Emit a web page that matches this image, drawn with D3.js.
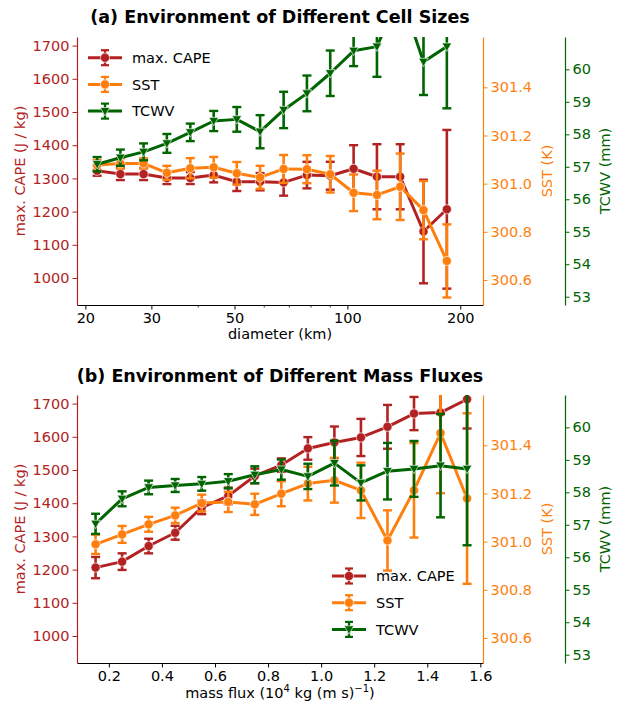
<!DOCTYPE html>
<html>
<head>
<meta charset="utf-8">
<script src="https://cdn.jsdelivr.net/npm/d3@7"></script>
<style>
  body { margin: 0; background: #fff; }
  svg text { font-family: "DejaVu Sans", sans-serif; }
</style>
</head>
<body>
<div id="chart"></div>
<script>
// ---- data ----
const diameter = [21.5, 24.8, 28.6, 33.0, 38.1, 44.0, 50.7, 58.5, 67.6, 78.0, 90.0, 103.9, 119.9, 138.3, 159.6, 184.2];
const capeA    = [1323, 1313, 1313, 1301, 1301, 1310, 1290, 1290, 1288, 1310, 1308, 1329, 1305, 1305, 1140, 1207];
const capeAErr = [15, 18, 18, 18, 18, 22, 28, 26, 40, 40, 42, 71, 98, 98, 156, 239];
const sstA     = [301.077, 301.084, 301.084, 301.045, 301.064, 301.068, 301.043, 301.026, 301.061, 301.060, 301.039, 300.962, 300.953, 300.987, 300.890, 300.679];
const sstAErr  = [0.021, 0.021, 0.021, 0.029, 0.042, 0.043, 0.047, 0.048, 0.058, 0.058, 0.076, 0.076, 0.101, 0.138, 0.121, 0.152];
const tcwvA    = [57.08, 57.28, 57.46, 57.72, 58.06, 58.41, 58.46, 58.08, 58.75, 59.26, 59.88, 60.57, 60.70, 62.35, 60.23, 60.70];
const tcwvAErr = [0.22, 0.25, 0.26, 0.29, 0.27, 0.31, 0.38, 0.51, 0.56, 0.55, 0.70, 0.47, 0.93, 1.0, 1.02, 1.9];

const massFlux = [0.15, 0.25, 0.35, 0.45, 0.55, 0.65, 0.75, 0.85, 0.95, 1.05, 1.15, 1.25, 1.35, 1.45, 1.55];
const capeB    = [1206, 1224, 1271, 1311, 1387, 1422, 1482, 1515, 1565, 1583, 1598, 1630, 1670, 1673, 1713];
const capeBErr = [32, 25, 22, 21, 20, 25, 22, 20, 34, 48, 56, 66, 50, 60, 88];
const sstB     = [300.989, 301.030, 301.072, 301.109, 301.160, 301.165, 301.155, 301.199, 301.241, 301.255, 301.213, 301.005, 301.213, 301.451, 301.179];
const sstBErr  = [0.040, 0.035, 0.031, 0.032, 0.035, 0.042, 0.044, 0.052, 0.070, 0.093, 0.115, 0.125, 0.196, 0.25, 0.354];
const tcwvB    = [57.03, 57.80, 58.15, 58.21, 58.26, 58.34, 58.54, 58.70, 58.49, 58.90, 58.29, 58.65, 58.72, 58.82, 58.72];
const tcwvBErr = [0.31, 0.23, 0.21, 0.20, 0.21, 0.22, 0.26, 0.31, 0.39, 0.69, 0.54, 0.87, 0.86, 1.59, 2.35];

const capeTicks = [1000, 1100, 1200, 1300, 1400, 1500, 1600, 1700];
const sstTicks = [300.6, 300.8, 301.0, 301.2, 301.4];
const tcwvTicks = [53, 54, 55, 56, 57, 58, 59, 60];
const diameterTicks = [20, 30, 50, 100, 200];
const diameterMinor = [40, 60, 70, 80, 90];
const massTicks = [0.2, 0.4, 0.6, 0.8, 1.0, 1.2, 1.4, 1.6];

const seriesNames = ["max. CAPE", "SST", "TCWV"];
const colors = { cape: "#b22222", sst: "#ff7f0e", tcwv: "#006400" };

// ---- layout ----
const width = 621, height = 704;
const left = 77, right = 483, tcwvX = 565;
const fontSize = 14.5;

const svg = d3.select("#chart").append("svg")
  .attr("width", width)
  .attr("height", height);

function drawPanel(cfg) {
  const top = cfg.top, bottom = cfg.bottom;
  const g = svg.append("g");

  let yCape = d3.scaleLinear().domain([918.7, 1725.9]).range([bottom, top]);
  let ySst = d3.scaleLinear().domain([300.496, 301.609]).range([bottom, top]);
  let yTcwv = d3.scaleLinear().domain([52.745, 60.996]).range([bottom, top]);
  let x = cfg.x;

  // clip to the axes box
  g.append("clipPath").attr("id", "clip" + cfg.id)
    .append("rect")
    .attr("x", left).attr("y", top)
    .attr("width", right - left).attr("height", bottom - top);

  // title
  g.append("text")
    .attr("x", 280).attr("y", cfg.titleY)
    .attr("text-anchor", "middle")
    .style("font-size", "17.5px").style("font-weight", "bold")
    .text(cfg.title);

  // x axis
  let xAxis = d3.axisBottom(x).tickValues(cfg.xTicks).tickFormat(cfg.xFormat)
    .tickSizeOuter(0).tickSizeInner(4.5).tickPadding(3);
  let gx = g.append("g")
    .attr("transform", "translate(0," + bottom + ")")
    .call(xAxis);
  gx.selectAll("text").style("font-size", fontSize + "px").attr("fill", "#000");
  gx.select(".domain").attr("stroke", "#000").attr("stroke-width", 1.2);
  if (cfg.xMinor) {
    gx.selectAll(".minor").data(cfg.xMinor).enter().append("line")
      .attr("class", "minor")
      .attr("x1", d => x(d)).attr("x2", d => x(d))
      .attr("y1", 0).attr("y2", 2.5)
      .attr("stroke", "#000").attr("stroke-width", 0.8);
  }

  g.append("text")
    .attr("class", "xlabel")
    .attr("x", 280).attr("y", cfg.xLabelY)
    .attr("text-anchor", "middle")
    .style("font-size", fontSize + "px")
    .call(cfg.xLabel);

  // y axes
  function styleAxis(sel, color) {
    sel.select(".domain").attr("stroke", color).attr("stroke-width", 1.2);
    sel.selectAll(".tick line").attr("stroke", color);
    sel.selectAll("text").attr("fill", color).style("font-size", fontSize + "px");
  }

  let gCape = g.append("g").attr("transform", "translate(" + left + ",0)")
    .call(d3.axisLeft(yCape).tickValues(capeTicks).tickFormat(d3.format("d"))
      .tickSizeOuter(0).tickSizeInner(4.5).tickPadding(3));
  styleAxis(gCape, colors.cape);

  let gSst = g.append("g").attr("transform", "translate(" + right + ",0)")
    .call(d3.axisRight(ySst).tickValues(sstTicks).tickFormat(d3.format(".1f"))
      .tickSizeOuter(0).tickSizeInner(4.5).tickPadding(3));
  styleAxis(gSst, colors.sst);

  let gTcwv = g.append("g").attr("transform", "translate(" + tcwvX + ",0)")
    .call(d3.axisRight(yTcwv).tickValues(tcwvTicks).tickFormat(d3.format("d"))
      .tickSizeOuter(0).tickSizeInner(4.5).tickPadding(3));
  styleAxis(gTcwv, colors.tcwv);

  let midY = (top + bottom) / 2;
  g.append("text")
    .attr("transform", "translate(25," + midY + ") rotate(-90)")
    .attr("text-anchor", "middle")
    .attr("fill", colors.cape).style("font-size", fontSize + "px")
    .text("max. CAPE (J / kg)");
  g.append("text")
    .attr("transform", "translate(552," + midY + ") rotate(-90)")
    .attr("text-anchor", "middle")
    .attr("fill", colors.sst).style("font-size", fontSize + "px")
    .text("SST (K)");
  g.append("text")
    .attr("transform", "translate(610," + midY + ") rotate(-90)")
    .attr("text-anchor", "middle")
    .attr("fill", colors.tcwv).style("font-size", fontSize + "px")
    .text("TCWV (mm)");

  // series
  let plot = g.append("g").attr("clip-path", "url(#clip" + cfg.id + ")");
  let series = [
    { vals: cfg.cape, err: cfg.capeErr, y: yCape, color: colors.cape, marker: "circle" },
    { vals: cfg.sst, err: cfg.sstErr, y: ySst, color: colors.sst, marker: "circle" },
    { vals: cfg.tcwv, err: cfg.tcwvErr, y: yTcwv, color: colors.tcwv, marker: "tri" }
  ];

  series.forEach(function(s) {
    let pts = cfg.xs.map((d, i) => ({ x: d, v: s.vals[i], e: s.err[i] }));
    let line = d3.line().x(d => x(d.x)).y(d => s.y(d.v));
    let sg = plot.append("g");

    sg.append("path").datum(pts)
      .attr("d", line)
      .attr("fill", "none")
      .attr("stroke", s.color)
      .attr("stroke-width", 3)
      .attr("stroke-linejoin", "round");

    sg.selectAll(".bar").data(pts).enter().append("line")
      .attr("x1", d => x(d.x)).attr("x2", d => x(d.x))
      .attr("y1", d => s.y(d.v - d.e)).attr("y2", d => s.y(d.v + d.e))
      .attr("stroke", s.color).attr("stroke-width", 2.6);

    let caps = [];
    pts.forEach(d => { caps.push({ x: d.x, v: d.v - d.e }); caps.push({ x: d.x, v: d.v + d.e }); });
    sg.selectAll(".cap").data(caps).enter().append("line")
      .attr("x1", d => x(d.x) - 4.5).attr("x2", d => x(d.x) + 4.5)
      .attr("y1", d => s.y(d.v)).attr("y2", d => s.y(d.v))
      .attr("stroke", s.color).attr("stroke-width", 2.4);

    if (s.marker === "circle") {
      sg.selectAll(".mk").data(pts).enter().append("circle")
        .attr("cx", d => x(d.x)).attr("cy", d => s.y(d.v))
        .attr("r", 4.6)
        .attr("fill", s.color).attr("stroke", "#fff").attr("stroke-opacity", 0.8).attr("stroke-width", 0.8);
    } else {
      sg.selectAll(".mk").data(pts).enter().append("path")
        .attr("transform", d => "translate(" + x(d.x) + "," + s.y(d.v) + ")")
        .attr("d", "M-4.8,-3.6L4.8,-3.6L0,4.8Z")
        .attr("fill", s.color).attr("stroke", "#fff").attr("stroke-opacity", 0.8).attr("stroke-width", 0.8);
    }
  });

  // legend
  let lg = g.append("g").attr("transform", "translate(" + cfg.legend[0] + "," + cfg.legend[1] + ")");
  series.forEach(function(s, i) {
    let row = lg.append("g").attr("transform", "translate(0," + (i * 26.7) + ")");
    row.append("line").attr("x1", 0).attr("x2", 34).attr("y1", 0).attr("y2", 0)
      .attr("stroke", s.color).attr("stroke-width", 3);
    row.append("line").attr("x1", 17).attr("x2", 17).attr("y1", -7.5).attr("y2", 7.5)
      .attr("stroke", s.color).attr("stroke-width", 2.4);
    [-7.5, 7.5].forEach(dy => {
      row.append("line").attr("x1", 13).attr("x2", 21).attr("y1", dy).attr("y2", dy)
        .attr("stroke", s.color).attr("stroke-width", 2.2);
    });
    if (s.marker === "circle") {
      row.append("circle").attr("cx", 17).attr("cy", 0).attr("r", 4.6)
        .attr("fill", s.color).attr("stroke", "#fff").attr("stroke-opacity", 0.8).attr("stroke-width", 0.8);
    } else {
      row.append("path").attr("transform", "translate(17,0)")
        .attr("d", "M-4.8,-3.6L4.8,-3.6L0,4.8Z")
        .attr("fill", s.color).attr("stroke", "#fff").attr("stroke-opacity", 0.8).attr("stroke-width", 0.8);
    }
    row.append("text").attr("x", 44).attr("y", 5.2)
      .style("font-size", fontSize + "px")
      .text(seriesNames[i]);
  });
}

drawPanel({
  id: "a", top: 37, bottom: 305, titleY: 23,
  title: "(a) Environment of Different Cell Sizes",
  x: d3.scaleLog().domain([19.0, 230]).range([left, right]),
  xTicks: diameterTicks, xMinor: diameterMinor, xFormat: d3.format("d"),
  xLabelY: 339,
  xLabel: t => t.text("diameter (km)"),
  xs: diameter,
  cape: capeA, capeErr: capeAErr, sst: sstA, sstErr: sstAErr, tcwv: tcwvA, tcwvErr: tcwvAErr,
  legend: [88, 57.7]
});

drawPanel({
  id: "b", top: 395, bottom: 663, titleY: 382,
  title: "(b) Environment of Different Mass Fluxes",
  x: d3.scaleLinear().domain([0.08, 1.61]).range([left, right]),
  xTicks: massTicks, xMinor: null, xFormat: d3.format(".1f"),
  xLabelY: 698,
  xLabel: function(t) {
    t.append("tspan").text("mass flux (10");
    t.append("tspan").attr("dy", -6).style("font-size", "10px").text("4");
    t.append("tspan").attr("dy", 6).text(" kg (m s)");
    t.append("tspan").attr("dy", -6).style("font-size", "10px").text("\u22121");
    t.append("tspan").attr("dy", 6).text(")");
  },
  xs: massFlux,
  cape: capeB, capeErr: capeBErr, sst: sstB, sstErr: sstBErr, tcwv: tcwvB, tcwvErr: tcwvBErr,
  legend: [332, 576]
});
</script>
</body>
</html>
